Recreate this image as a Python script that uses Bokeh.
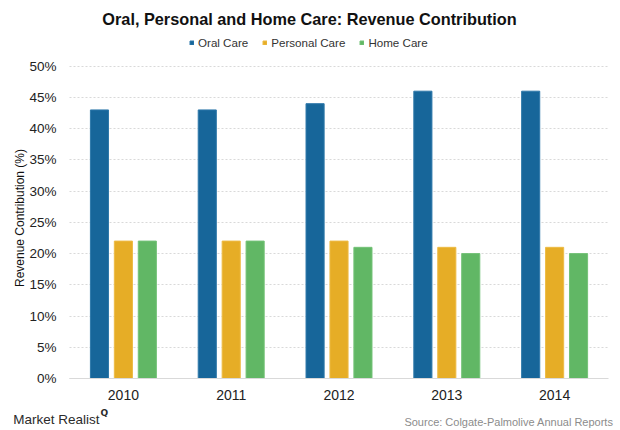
import math
from bokeh.plotting import figure
from bokeh.models import (ColumnDataSource, Range1d, FixedTicker, Legend, LegendItem, Label)
from bokeh.transform import dodge
from bokeh.embed import file_html
from bokeh.resources import INLINE

years = [2010, 2011, 2012, 2013, 2014]
year_labels = ["2010", "2011", "2012", "2013", "2014"]
oral_care = [43, 43, 44, 46, 46]
personal_care = [22, 22, 22, 21, 21]
home_care = [22, 22, 21, 20, 20]
y_ticks = [0, 5, 10, 15, 20, 25, 30, 35, 40, 45, 50]
series_names = ["Oral Care", "Personal Care", "Home Care"]

FONT = "Liberation Sans"
W, H = 616, 428
src = ColumnDataSource(dict(year=years, oral=oral_care, personal=personal_care, home=home_care))

p = figure(width=W, height=H, x_range=Range1d(2008.86, 2014.574), y_range=Range1d(-8.005, 60.519),
           output_backend="svg", toolbar_location=None,
           min_border_left=0, min_border_right=0, min_border_top=0, min_border_bottom=0)

w = 0.168
r1 = p.vbar(x=dodge("year", -0.222), top="oral", width=w, source=src,
            fill_color="#17669a", line_color="#2e78aa", line_width=1)
r2 = p.vbar(x=dodge("year", 0.0), top="personal", width=w, source=src,
            fill_color="#e6ad26", line_color="#edbb45", line_width=1)
r3 = p.vbar(x=dodge("year", 0.222), top="home", width=w, source=src,
            fill_color="#61b765", line_color="#74c278", line_width=1)

legend = Legend(items=[LegendItem(label=series_names[0], renderers=[r1]),
                       LegendItem(label=series_names[1], renderers=[r2]),
                       LegendItem(label=series_names[2], renderers=[r3])],
                orientation="horizontal", location=(189, 379),
                label_text_font=FONT, label_text_font_size="11.6px", label_text_color="#333333",
                glyph_width=5, glyph_height=5, label_standoff=4, spacing=14,
                border_line_color=None, background_fill_alpha=0, padding=2, margin=0)
p.add_layout(legend, "center")

p.yaxis.fixed_location = 2009.5
p.yaxis.bounds = (0, 50)
p.yaxis.ticker = FixedTicker(ticks=y_ticks)
p.yaxis.major_label_overrides = {t: f"{t}%" for t in y_ticks}
p.yaxis.axis_line_color = None
p.yaxis.major_tick_line_color = None
p.yaxis.minor_tick_line_color = None
p.yaxis.major_tick_out = 0
p.yaxis.major_tick_in = 0
p.yaxis.major_label_text_font = FONT
p.yaxis.major_label_text_font_size = "13.5px"
p.yaxis.major_label_text_color = "#222222"
p.yaxis.major_label_standoff = 13

p.xaxis.fixed_location = 0
p.xaxis.bounds = (2009.5, 2014.5)
p.xaxis.ticker = FixedTicker(ticks=years)
p.xaxis.major_label_overrides = dict(zip(years, year_labels))
p.xaxis.axis_line_color = "#d9d9d9"
p.xaxis.axis_line_width = 1
p.xaxis.major_tick_line_color = None
p.xaxis.minor_tick_line_color = None
p.xaxis.major_tick_out = 0
p.xaxis.major_tick_in = 0
p.xaxis.major_label_text_font = FONT
p.xaxis.major_label_text_font_size = "14px"
p.xaxis.major_label_text_color = "#222222"
p.xaxis.major_label_standoff = 11

p.xgrid.grid_line_color = None
p.ygrid.grid_line_color = "#d9d9d9"
p.ygrid.grid_line_dash = "2 2"
p.ygrid.cross_bounds = (2009.5, 2014.5)
p.outline_line_color = None

p.add_layout(Label(x=309, y=409.3, x_units="screen", y_units="screen",
                   text="Oral, Personal and Home Care: Revenue Contribution", text_align="center",
                   text_baseline="middle",
                   text_font=FONT, text_font_size="16.3px", text_font_style="bold",
                   text_color="#111111"))
p.add_layout(Label(x=19, y=210.5, x_units="screen", y_units="screen",
                   text="Revenue Contribution (%)", angle=math.pi / 2, text_align="center",
                   text_baseline="middle",
                   text_font=FONT, text_font_size="12px", text_color="#111111"))
p.add_layout(Label(x=12.7, y=9, x_units="screen", y_units="screen", text="Market Realist",
                   text_baseline="middle",
                   text_font=FONT, text_font_size="13.5px", text_color="#2b2b2b"))
p.add_layout(Label(x=100, y=16, x_units="screen", y_units="screen", text="Q",
                   text_baseline="middle",
                   text_font="DejaVu Sans", text_font_size="9px", text_font_style="bold",
                   text_color="#2b2b2b"))
p.add_layout(Label(x=613, y=7, x_units="screen", y_units="screen",
                   text="Source: Colgate-Palmolive Annual Reports", text_align="right",
                   text_baseline="middle",
                   text_font=FONT, text_font_size="11px", text_color="#8c8c8c"))

open("out.html", "w").write(file_html(p, INLINE))
